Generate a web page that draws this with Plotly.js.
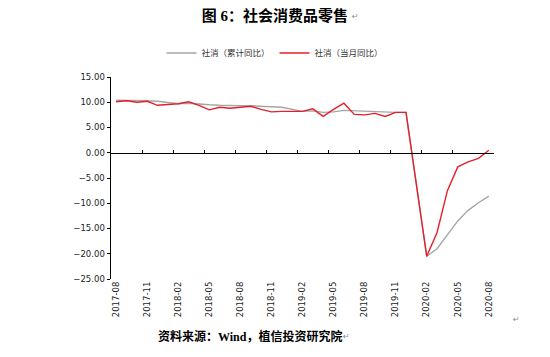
<!DOCTYPE html>
<html>
<head>
<meta charset="utf-8">
<script src="https://cdn.plot.ly/plotly-3.0.1.min.js"></script>
<style>html,body{margin:0;padding:0;background:#fff;}#chart{width:550px;height:357px;}</style>
</head>
<body>
<div id="chart"></div>
<script>
// Months (category axis); January values are not published (combined with February)
var months = [
  "2017-08","2017-09","2017-10","2017-11","2017-12",
  "2018-01","2018-02","2018-03","2018-04","2018-05","2018-06","2018-07","2018-08","2018-09","2018-10","2018-11","2018-12",
  "2019-01","2019-02","2019-03","2019-04","2019-05","2019-06","2019-07","2019-08","2019-09","2019-10","2019-11","2019-12",
  "2020-01","2020-02","2020-03","2020-04","2020-05","2020-06","2020-07","2020-08"
];
// 社消（累计同比）
var cumulativeYoY = [
  10.4,10.4,10.3,10.3,10.2,
  null,9.7,9.8,9.6,9.5,9.4,9.3,9.3,9.3,9.2,9.1,9.0,
  null,8.2,8.3,8.0,8.1,8.4,8.3,8.2,8.2,8.1,8.0,8.0,
  null,-20.5,-19.0,-16.2,-13.5,-11.4,-9.9,-8.6
];
// 社消（当月同比）
var monthlyYoY = [
  10.1,10.3,10.0,10.2,9.4,
  null,9.7,10.1,9.4,8.5,9.0,8.8,9.0,9.2,8.6,8.1,8.2,
  null,8.2,8.7,7.2,8.6,9.8,7.6,7.5,7.8,7.2,8.0,8.0,
  null,-20.5,-15.8,-7.5,-2.8,-1.8,-1.1,0.5
];
var tickLabels = ["2017-08","2017-11","2018-02","2018-05","2018-08","2018-11","2019-02","2019-05","2019-08","2019-11","2020-02","2020-05","2020-08"];
var yTicks = [15,10,5,0,-5,-10,-15,-20,-25];
var seriesNames = ["社消（累计同比）","社消（当月同比）"];
var titleText = "图 6：社会消费品零售";
var sourceText = "资料来源：Wind，植信投资研究院";

// boundary tick positions (every third category boundary)
var boundaryTicks = [];
for (var i = 0; i < months.length - 1; i += 3) boundaryTicks.push(i - 0.5);

var tickFont = {family: "DejaVu Sans, Noto Sans CJK SC, sans-serif", size: 8.5, color: "#222"};

var traces = [
  {x: months, y: cumulativeYoY, name: seriesNames[0], type: "scatter", mode: "lines",
   connectgaps: true, line: {color: "#a6a6a6", width: 1.4}, xaxis: "x", yaxis: "y"},
  {x: months, y: monthlyYoY, name: seriesNames[1], type: "scatter", mode: "lines",
   connectgaps: true, line: {color: "#e3202b", width: 1.4}, xaxis: "x", yaxis: "y"},
  // invisible trace to host the overlay axis drawn on the zero line
  {x: [boundaryTicks[0]], y: [0], type: "scatter", mode: "markers", marker: {opacity: 0},
   showlegend: false, hoverinfo: "skip", xaxis: "x2", yaxis: "y"}
];

var layout = {
  width: 550, height: 357,
  margin: {l: 111, r: 56, t: 77, b: 78},
  paper_bgcolor: "#fff", plot_bgcolor: "#fff",
  showlegend: true,
  legend: {orientation: "h", xref: "container", x: 0.5, xanchor: "center",
           yref: "container", y: 1 - 53/357, yanchor: "middle",
           font: {family: "Noto Sans CJK SC, sans-serif", size: 8.5, color: "#333"},
           itemwidth: 30, tracegroupgap: 0, bgcolor: "rgba(0,0,0,0)"},
  title: {text: titleText, xref: "container", x: 0.5, xanchor: "center",
          yref: "container", y: 1 - 16/357, yanchor: "middle",
          font: {family: "Liberation Serif, Noto Sans CJK SC, serif", size: 15, color: "#000", weight: "bold"}},
  xaxis: {type: "category", categoryorder: "array", categoryarray: months,
          range: [-0.5, months.length - 0.5],
          tickmode: "array", tickvals: tickLabels, ticktext: tickLabels,
          tickangle: -90, tickfont: tickFont, ticks: "", showline: false,
          showgrid: false, zeroline: false, fixedrange: true},
  xaxis2: {overlaying: "x", anchor: "free", position: 25/40, side: "bottom",
           range: [-0.5, months.length - 0.5], type: "linear",
           tickmode: "array", tickvals: boundaryTicks, showticklabels: false,
           ticks: "inside", ticklen: 3, tickwidth: 1, tickcolor: "#000",
           showline: true, linecolor: "#000", linewidth: 1.5,
           showgrid: false, zeroline: false},
  yaxis: {range: [-25, 15], tickmode: "array", tickvals: yTicks, tickformat: ".2f",
          tickfont: tickFont, ticks: "outside", ticklen: 3, tickwidth: 1, tickcolor: "#000",
          showline: true, linecolor: "#000", linewidth: 1.5,
          showgrid: false, zeroline: false, fixedrange: true},
  annotations: [
    {text: sourceText, xref: "paper", yref: "paper", x: 0.363, y: -0.285, xanchor: "center", yanchor: "middle",
     showarrow: false, font: {family: "Liberation Serif, Noto Sans CJK SC, serif", size: 12, color: "#000", weight: "bold"}},
    {text: "↵", xref: "paper", yref: "paper", x: 0.624, y: 1.3, xanchor: "left", yanchor: "middle",
     showarrow: false, font: {family: "DejaVu Sans", size: 8, color: "#888"}},
    {text: "↵", xref: "paper", yref: "paper", x: 0.6, y: -0.285, xanchor: "left", yanchor: "middle",
     showarrow: false, font: {family: "DejaVu Sans", size: 8, color: "#888"}},
    {text: "↵", xref: "paper", yref: "paper", x: 1.045, y: -0.2, xanchor: "left", yanchor: "middle",
     showarrow: false, font: {family: "DejaVu Sans", size: 8, color: "#888"}}
  ]
};

Plotly.newPlot("chart", traces, layout, {displayModeBar: false, staticPlot: true});
</script>
</body>
</html>
